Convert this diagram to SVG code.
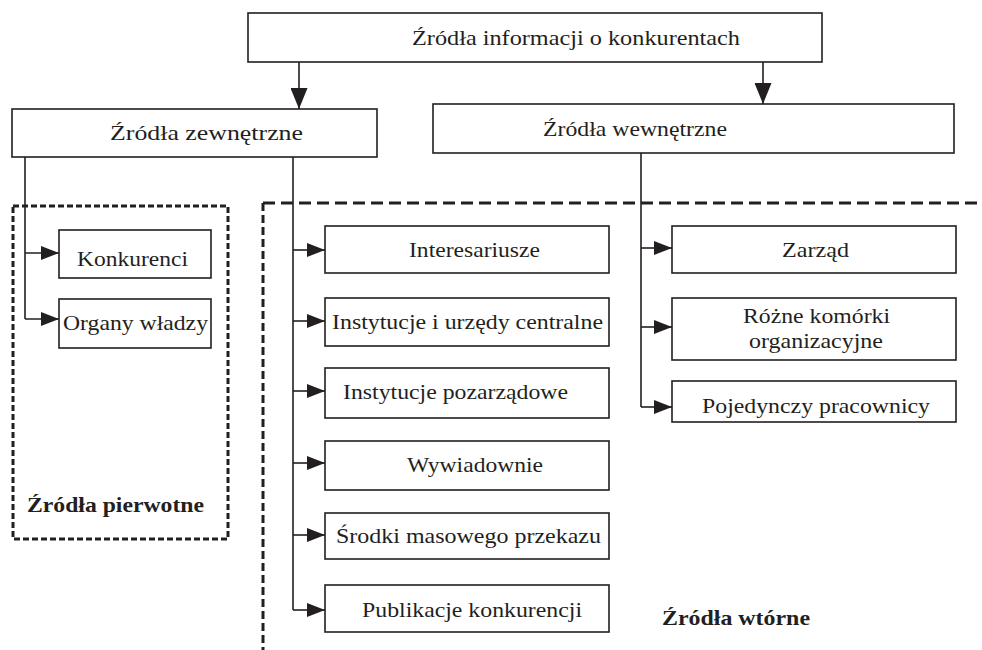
<svg xmlns="http://www.w3.org/2000/svg" width="982" height="650" viewBox="0 0 982 650">
<style>
.box{fill:#fff;stroke:#231f20;stroke-width:1.6}
.t{font-family:"Liberation Serif","Times New Roman","DejaVu Serif",serif;font-size:21px;fill:#231f20}
.b{font-family:"Liberation Serif","Times New Roman","DejaVu Serif",serif;font-size:21px;font-weight:bold;fill:#231f20}
.ln{fill:none;stroke:#231f20;stroke-width:1.6}
.dash{fill:none;stroke:#231f20;stroke-width:3}
</style>
<defs>
<marker id="ah" markerUnits="userSpaceOnUse" markerWidth="18" markerHeight="14" refX="18" refY="7" orient="auto"><path d="M0,0 L18,7 L0,14 Z" fill="#231f20"/></marker>
<marker id="av" markerUnits="userSpaceOnUse" markerWidth="21" markerHeight="17" refX="21" refY="8.5" orient="auto"><path d="M0,0 L21,8.5 L0,17 Z" fill="#231f20"/></marker>
</defs>
<g id="regions">
<path class="dash" d="M13,206 H228 V539 H13 Z" stroke-dasharray="6 3"/>
<line class="dash" x1="263" y1="203" x2="982" y2="203" stroke-dasharray="12 6"/>
<line class="dash" x1="263" y1="203" x2="263" y2="650" stroke-dasharray="8 4"/>
<text class="b" x="27" y="512" textLength="177" lengthAdjust="spacingAndGlyphs">Źródła pierwotne</text>
<text class="b" x="662" y="625" textLength="148" lengthAdjust="spacingAndGlyphs">Źródła wtórne</text>
</g>
<g id="connectors">
<line class="ln" x1="299" y1="62" x2="299" y2="109" marker-end="url(#av)"/>
<line class="ln" x1="763" y1="62" x2="763" y2="104" marker-end="url(#av)"/>
<path class="ln" d="M25,157 V319"/>
<line class="ln" x1="25" y1="253" x2="59" y2="253" marker-end="url(#ah)"/>
<line class="ln" x1="25" y1="319" x2="59" y2="319" marker-end="url(#ah)"/>
<path class="ln" d="M293,157 V610"/>
<line class="ln" x1="293" y1="250" x2="325" y2="250" marker-end="url(#ah)"/>
<line class="ln" x1="293" y1="321" x2="325" y2="321" marker-end="url(#ah)"/>
<line class="ln" x1="293" y1="391" x2="325" y2="391" marker-end="url(#ah)"/>
<line class="ln" x1="293" y1="463" x2="325" y2="463" marker-end="url(#ah)"/>
<line class="ln" x1="293" y1="535" x2="325" y2="535" marker-end="url(#ah)"/>
<line class="ln" x1="293" y1="610" x2="325" y2="610" marker-end="url(#ah)"/>
<path class="ln" d="M641,153 V407"/>
<line class="ln" x1="641" y1="248" x2="672" y2="248" marker-end="url(#ah)"/>
<line class="ln" x1="641" y1="327" x2="672" y2="327" marker-end="url(#ah)"/>
<line class="ln" x1="641" y1="407" x2="672" y2="407" marker-end="url(#ah)"/>
</g>
<g id="root"><rect class="box" x="248" y="13" width="574" height="49"/><text class="t" x="412" y="45" textLength="328" lengthAdjust="spacingAndGlyphs">Źródła informacji o konkurentach</text></g>
<g id="zewnetrzne"><rect class="box" x="12" y="109" width="365" height="48"/><text class="t" x="110" y="140" textLength="193" lengthAdjust="spacingAndGlyphs">Źródła zewnętrzne</text></g>
<g id="wewnetrzne"><rect class="box" x="433" y="104" width="521" height="49"/><text class="t" x="543" y="136" textLength="184" lengthAdjust="spacingAndGlyphs">Źródła wewnętrzne</text></g>
<g id="konkurenci"><rect class="box" x="59" y="230" width="152" height="48"/><text class="t" x="77" y="266" textLength="111" lengthAdjust="spacingAndGlyphs">Konkurenci</text></g>
<g id="organy"><rect class="box" x="59" y="299" width="152" height="49"/><text class="t" x="63" y="330" textLength="145" lengthAdjust="spacingAndGlyphs">Organy władzy</text></g>
<g id="interesariusze"><rect class="box" x="325" y="226" width="284" height="47"/><text class="t" x="409" y="257" textLength="131" lengthAdjust="spacingAndGlyphs">Interesariusze</text></g>
<g id="instytucje-centralne"><rect class="box" x="325" y="298" width="284" height="48"/><text class="t" x="332" y="329" textLength="271" lengthAdjust="spacingAndGlyphs">Instytucje i urzędy centralne</text></g>
<g id="instytucje-pozarzadowe"><rect class="box" x="325" y="368" width="284" height="50"/><text class="t" x="343" y="399" textLength="225" lengthAdjust="spacingAndGlyphs">Instytucje pozarządowe</text></g>
<g id="wywiadownie"><rect class="box" x="325" y="441" width="284" height="49"/><text class="t" x="407" y="472" textLength="136" lengthAdjust="spacingAndGlyphs">Wywiadownie</text></g>
<g id="srodki"><rect class="box" x="325" y="513" width="284" height="46"/><text class="t" x="336" y="543" textLength="265" lengthAdjust="spacingAndGlyphs">Środki masowego przekazu</text></g>
<g id="publikacje"><rect class="box" x="325" y="585" width="284" height="47"/><text class="t" x="362" y="617" textLength="220" lengthAdjust="spacingAndGlyphs">Publikacje konkurencji</text></g>
<g id="zarzad"><rect class="box" x="672" y="226" width="284" height="47"/><text class="t" x="782" y="257" textLength="67" lengthAdjust="spacingAndGlyphs">Zarząd</text></g>
<g id="rozne"><rect class="box" x="672" y="298" width="284" height="62"/><text class="t" x="743" y="323" textLength="147" lengthAdjust="spacingAndGlyphs">Różne komórki</text><text class="t" x="749" y="348" textLength="134" lengthAdjust="spacingAndGlyphs">organizacyjne</text></g>
<g id="pojedynczy"><rect class="box" x="672" y="381" width="284" height="41"/><text class="t" x="702" y="413" textLength="228" lengthAdjust="spacingAndGlyphs">Pojedynczy pracownicy</text></g>
</svg>
